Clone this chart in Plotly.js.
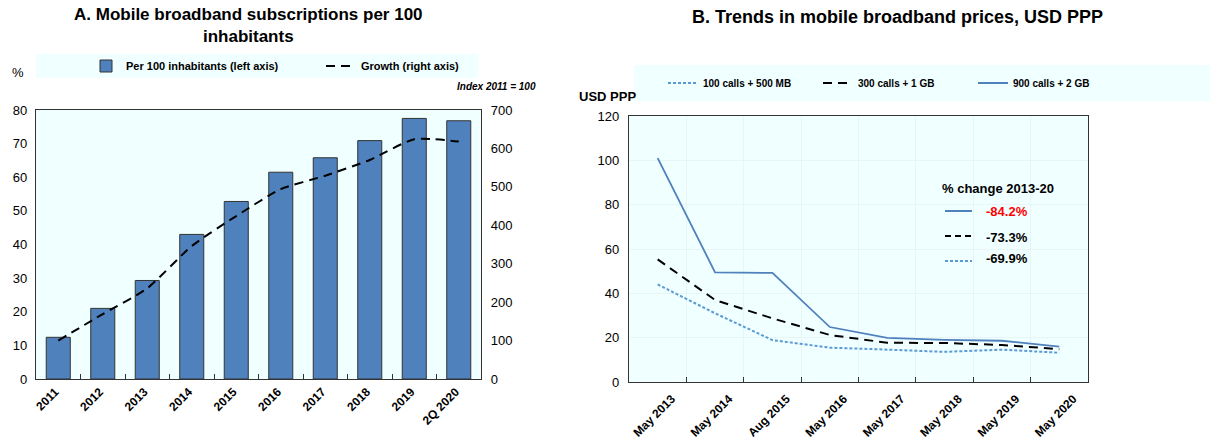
<!DOCTYPE html>
<html><head><meta charset="utf-8">
<script src="https://cdn.plot.ly/plotly-3.0.1.min.js"></script>
<style>html,body{margin:0;padding:0;background:#fff}#c{width:1212px;height:447px}</style>
</head><body><div id="c"></div>
<script>
// Panel A data
const yearsA = ['2011','2012','2013','2014','2015','2016','2017','2018','2019','2Q 2020'];
const per100 = [12.4, 21.0, 29.3, 43.0, 52.8, 61.5, 65.8, 70.9, 77.5, 76.8];
const growthIdx = [100, 169, 236, 346, 424, 494, 529, 570, 624, 618];
// Panel B data
const datesB = ['May 2013','May 2014','Aug 2015','May 2016','May 2017','May 2018','May 2019','May 2020'];
const basket100 = [44.0, 31.0, 18.9, 15.5, 14.6, 13.6, 14.6, 13.2];
const basket300 = [55.3, 37.0, 28.7, 21.2, 17.7, 17.6, 16.7, 14.8];
const basket900 = [101.0, 49.5, 49.2, 24.8, 19.9, 19.0, 18.6, 16.0];
const changeLabels = ['-84.2%', '-73.3%', '-69.9%'];

const W = 1212, H = 447;
const px = x => x / W, py = y => 1 - y / H;
const FB = '"Liberation Sans", Arial, sans-serif';
const BG = '#F0FFFF';
const BLUE = '#4F81BD';
const LBLUE = '#5B9BD5';

const traces = [
  {type:'bar', x:yearsA, y:per100, name:'Per 100 inhabitants (left axis)', xaxis:'x', yaxis:'y',
   marker:{color:BLUE, line:{color:'#333', width:1}}, width:0.54, legend:'legend'},
  {type:'scatter', mode:'lines', x:yearsA, y:growthIdx, name:'Growth (right axis)', xaxis:'x', yaxis:'y2',
   line:{color:'#000', width:2, dash:'9px,6px', shape:'spline', smoothing:0.6}, legend:'legend'},
  {type:'scatter', mode:'lines', x:datesB, y:basket100, name:'100 calls + 500 MB', xaxis:'x2', yaxis:'y3',
   line:{color:LBLUE, width:2, dash:'3px,2px'}, legend:'legend2'},
  {type:'scatter', mode:'lines', x:datesB, y:basket300, name:'300 calls + 1 GB', xaxis:'x2', yaxis:'y3',
   line:{color:'#000', width:2, dash:'9px,6px'}, legend:'legend2'},
  {type:'scatter', mode:'lines', x:datesB, y:basket900, name:'900 calls + 2 GB', xaxis:'x2', yaxis:'y3',
   line:{color:BLUE, width:1.8}, legend:'legend2'}
];

const axLine = {showline:true, linecolor:'#333', linewidth:1.2, showgrid:false, zeroline:false, automargin:false};
const tickF = {family:FB, size:13, color:'#000'};
const xtickF = {family:FB, size:12, color:'#000', weight:'bold'};
const GRID = '#E7F5F5';

const layout = {
  width:W, height:H, margin:{l:0,r:0,t:0,b:0,autoexpand:false},
  paper_bgcolor:'#fff', plot_bgcolor:BG, showlegend:true,
  xaxis:Object.assign({}, axLine, {type:'category', range:[-0.5, yearsA.length-0.5], domain:[px(36), px(481)], anchor:'y', mirror:true,
    tickangle:-45, tickfont:xtickF, ticks:'inside', tickson:'boundaries', ticklen:5, tickcolor:'#333', ticklabelshift:-3}),
  yaxis:Object.assign({}, axLine, {domain:[py(379), py(110)], anchor:'x', range:[0,80], dtick:10,
    ticks:'', tickfont:tickF, ticklabelstandoff:5}),
  yaxis2:Object.assign({}, axLine, {overlaying:'y', side:'right', anchor:'x', range:[0,700], dtick:100,
    ticks:'', tickfont:tickF, ticklabelstandoff:6}),
  xaxis2:Object.assign({}, axLine, {type:'category', range:[-0.5, datesB.length-0.5], domain:[px(629), px(1088)], anchor:'y3', mirror:true,
    tickangle:-45, tickfont:xtickF, ticks:'inside', tickson:'boundaries', ticklen:5, tickcolor:'#333',
    showgrid:true, gridcolor:GRID, gridwidth:1, ticklabelshift:14, ticklabelstandoff:4}),
  yaxis3:Object.assign({}, axLine, {domain:[py(382), py(116)], anchor:'x2', mirror:true, range:[0,120], dtick:20,
    ticks:'', tickfont:tickF, ticklabelstandoff:6, showgrid:true, gridcolor:GRID, gridwidth:1}),
  legend:{orientation:'h', x:px(86), y:py(66), xanchor:'left', yanchor:'middle', bgcolor:'rgba(0,0,0,0)',
    font:{family:FB, size:11, color:'#000', weight:'bold'}, entrywidth:190, itemwidth:30, traceorder:'normal'},
  legend2:{orientation:'h', x:px(663), y:py(83), xanchor:'left', yanchor:'middle', bgcolor:'rgba(0,0,0,0)',
    font:{family:FB, size:10, color:'#000', weight:'bold'}, entrywidth:110, itemwidth:30, traceorder:'normal'},
  shapes:[
    {type:'rect', xref:'paper', yref:'paper', x0:px(36), x1:px(478), y0:py(78), y1:py(54), fillcolor:BG, line:{width:0}, layer:'below'},
    {type:'rect', xref:'paper', yref:'paper', x0:px(634), x1:px(1210), y0:py(101), y1:py(65), fillcolor:BG, line:{width:0}, layer:'below'},
    {type:'line', xref:'paper', yref:'paper', x0:px(945), x1:px(972), y0:py(211), y1:py(211), line:{color:BLUE, width:2}},
    {type:'line', xref:'paper', yref:'paper', x0:px(945), x1:px(972), y0:py(236), y1:py(236), line:{color:'#000', width:2, dash:'6px,4px'}},
    {type:'line', xref:'paper', yref:'paper', x0:px(945), x1:px(972), y0:py(261), y1:py(261), line:{color:LBLUE, width:2, dash:'3px,2px'}}
  ],
  annotations:[
    {text:'<b>A. Mobile broadband subscriptions per 100<br>inhabitants</b>', xref:'paper', yref:'paper', x:px(248), y:py(3),
     xanchor:'center', yanchor:'top', showarrow:false, font:{family:FB, size:17, color:'#000'}},
    {text:'<b>B. Trends in mobile broadband prices, USD PPP</b>', xref:'paper', yref:'paper', x:px(897), y:py(5),
     xanchor:'center', yanchor:'top', showarrow:false, font:{family:FB, size:18, color:'#000'}},
    {text:'%', xref:'paper', yref:'paper', x:px(10), y:py(72), xanchor:'left', yanchor:'middle', showarrow:false,
     font:{family:FB, size:13, color:'#000'}},
    {text:'<b><i>Index 2011 = 100</i></b>', xref:'paper', yref:'paper', x:px(538), y:py(86), xanchor:'right', yanchor:'middle',
     showarrow:false, font:{family:FB, size:10, color:'#000'}},
    {text:'<b>USD PPP</b>', xref:'paper', yref:'paper', x:px(577), y:py(97), xanchor:'left', yanchor:'middle',
     showarrow:false, font:{family:FB, size:13, color:'#000'}},
    {text:'<b>% change 2013-20</b>', xref:'paper', yref:'paper', x:px(940), y:py(189), xanchor:'left', yanchor:'middle',
     showarrow:false, font:{family:FB, size:13, color:'#000'}},
    {text:'<b>'+changeLabels[0]+'</b>', xref:'paper', yref:'paper', x:px(984), y:py(211), xanchor:'left', yanchor:'middle',
     showarrow:false, font:{family:FB, size:13, color:'#FF0000'}},
    {text:'<b>'+changeLabels[1]+'</b>', xref:'paper', yref:'paper', x:px(984), y:py(237), xanchor:'left', yanchor:'middle',
     showarrow:false, font:{family:FB, size:13, color:'#000'}},
    {text:'<b>'+changeLabels[2]+'</b>', xref:'paper', yref:'paper', x:px(984), y:py(258), xanchor:'left', yanchor:'middle',
     showarrow:false, font:{family:FB, size:13, color:'#000'}}
  ]
};
Plotly.newPlot('c', traces, layout, {displayModeBar:false, staticPlot:true});
</script></body></html>
